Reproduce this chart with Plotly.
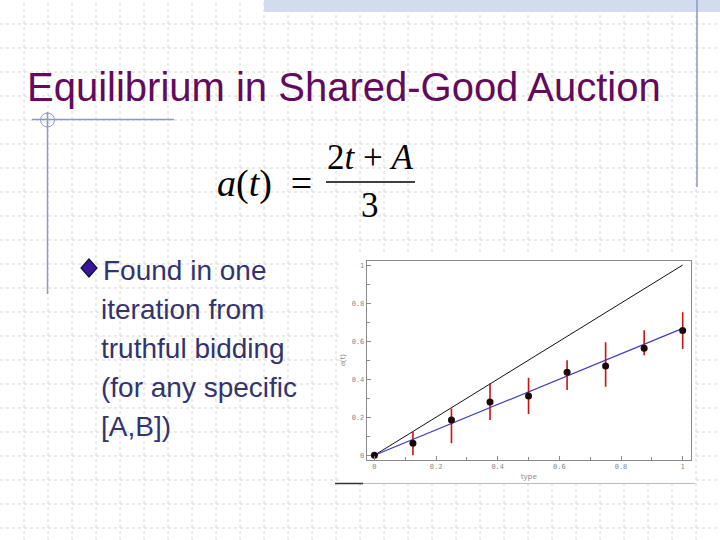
import plotly.graph_objects as go

W, H = 720, 540

# ---- data ----
types = [0, 0.125, 0.25, 0.375, 0.5, 0.625, 0.75, 0.875, 1.0]
bids = [0.0, 0.063, 0.185, 0.28, 0.311, 0.437, 0.469, 0.563, 0.656]
err_top = [0.0, 0.124, 0.246, 0.378, 0.407, 0.50, 0.594, 0.657, 0.752]
err_bottom = [0.0, 0.0, 0.063, 0.185, 0.217, 0.343, 0.36, 0.526, 0.559]
line_x = [0, 1]
truthful_y = [0, 1]
equilibrium_y = [0, 0.667]
x_ticks = [0, 0.2, 0.4, 0.6, 0.8, 1]
y_ticks = [0, 0.2, 0.4, 0.6, 0.8, 1]

title_text = "Equilibrium in Shared-Good Auction"
bullet_lines = ["Found in one", "iteration from", "truthful bidding",
                "(for any specific", "[A,B])"]


def X(px):
    return px / W


def Y(py):
    return 1 - py / H


err_plus = [t - b for t, b in zip(err_top, bids)]
err_minus = [b - lo for b, lo in zip(bids, err_bottom)]

fig = go.Figure()
fig.add_trace(go.Scatter(x=line_x, y=truthful_y, mode="lines",
                         line=dict(color="#111111", width=1), hoverinfo="skip"))
fig.add_trace(go.Scatter(x=line_x, y=equilibrium_y, mode="lines",
                         line=dict(color="#3a3ac8", width=1.2), hoverinfo="skip"))
fig.add_trace(go.Scatter(
    x=types, y=bids, mode="markers",
    marker=dict(color="#1a0808", size=7),
    error_y=dict(type="data", symmetric=False, array=err_plus,
                 arrayminus=err_minus, color="#cc1111", thickness=1.6, width=0),
))

shapes = []
gc = "#d6d6d6"
for k in range(1, 30):
    shapes.append(dict(type="line", xref="paper", yref="paper",
                       x0=X(24 * k), x1=X(24 * k), y0=0, y1=1,
                       line=dict(color=gc, width=1, dash="dot"), layer="below"))
for k in range(1, 23):
    shapes.append(dict(type="line", xref="paper", yref="paper",
                       x0=0, x1=1, y0=Y(24 * k), y1=Y(24 * k),
                       line=dict(color=gc, width=1, dash="dot"), layer="below"))
# top band
shapes.append(dict(type="rect", xref="paper", yref="paper",
                   x0=X(264), x1=1, y0=Y(12), y1=1,
                   fillcolor="#d3dcee", line=dict(width=0), layer="below"))
deco = "#8a9ac0"
shapes.append(dict(type="line", xref="paper", yref="paper",
                   x0=X(697), x1=X(697), y0=Y(0), y1=Y(187),
                   line=dict(color=deco, width=1.5)))
shapes.append(dict(type="line", xref="paper", yref="paper",
                   x0=X(32), x1=X(174), y0=Y(119.5), y1=Y(119.5),
                   line=dict(color=deco, width=1.5)))
shapes.append(dict(type="line", xref="paper", yref="paper",
                   x0=X(47.5), x1=X(47.5), y0=Y(112), y1=Y(294),
                   line=dict(color=deco, width=1.5)))
shapes.append(dict(type="circle", xref="paper", yref="paper",
                   x0=X(40.5), x1=X(54.5), y0=Y(113), y1=Y(127),
                   line=dict(color=deco, width=1)))
# chart image box
shapes.append(dict(type="rect", xref="paper", yref="paper",
                   x0=X(340), x1=X(695), y0=Y(484), y1=Y(254),
                   fillcolor="white", line=dict(width=0), layer="below"))
shapes.append(dict(type="line", xref="paper", yref="paper",
                   x0=X(340), x1=X(695), y0=Y(483.5), y1=Y(483.5),
                   line=dict(color="#bbbbbb", width=1)))
shapes.append(dict(type="line", xref="paper", yref="paper",
                   x0=X(335), x1=X(363), y0=Y(483.5), y1=Y(483.5),
                   line=dict(color="#333333", width=1.5)))
# bullet diamond
cx, cy, r = 89, 268, 8
path = "M {} {} L {} {} L {} {} L {} {} Z".format(
    X(cx), Y(cy - r - 1), X(cx + r), Y(cy), X(cx), Y(cy + r + 1), X(cx - r), Y(cy))
shapes.append(dict(type="path", xref="paper", yref="paper", path=path,
                   fillcolor="#3a14a0", line=dict(color="#111133", width=1.2)))
# fraction bar
shapes.append(dict(type="line", xref="paper", yref="paper",
                   x0=X(326), x1=X(415), y0=Y(182), y1=Y(182),
                   line=dict(color="black", width=1.5)))

annotations = []
annotations.append(dict(text=title_text, x=X(25), y=Y(87), xref="paper", yref="paper",
                        xanchor="left", yanchor="middle", showarrow=False,
                        font=dict(family="Liberation Sans", size=40, color="#620a5e")))
for i, line in enumerate(bullet_lines):
    annotations.append(dict(text=line, x=X(99 if i else 101), y=Y(270 + 39 * i),
                            xref="paper", yref="paper", xanchor="left",
                            yanchor="middle", showarrow=False,
                            font=dict(family="Liberation Sans", size=28,
                                      color="#33336e")))
serif = "Liberation Serif"
annotations.append(dict(text="<i>a</i>(<i>t</i>)  =", x=X(314), y=Y(183),
                        xref="paper", yref="paper", xanchor="right", yanchor="middle",
                        showarrow=False, font=dict(family=serif, size=38, color="black")))
annotations.append(dict(text="2<i>t</i> + <i>A</i>", x=X(370), y=Y(158),
                        xref="paper", yref="paper", xanchor="center", yanchor="middle",
                        showarrow=False, font=dict(family=serif, size=35, color="black")))
annotations.append(dict(text="3", x=X(370), y=Y(205),
                        xref="paper", yref="paper", xanchor="center", yanchor="middle",
                        showarrow=False, font=dict(family=serif, size=35, color="black")))

axis_common = dict(showgrid=False, zeroline=False, showline=True, mirror=True,
                   linecolor="#8a8a8a", linewidth=1, ticks="inside", ticklen=4,
                   tickcolor="#8a8a8a", tickfont=dict(size=7, color="#8a8a8a",
                                                      family="DejaVu Sans Mono"))
fig.update_layout(
    width=W, height=H, margin=dict(l=0, r=0, t=0, b=0),
    paper_bgcolor="white", plot_bgcolor="white", showlegend=False,
    shapes=shapes, annotations=annotations,
    xaxis=dict(domain=[X(366.7), X(691)], range=[-0.025, 1.027],
               tickvals=x_ticks, minor=dict(ticks="inside", dtick=0.1, ticklen=3,
                                            tickcolor="#8a8a8a"),
               title=dict(text="type", font=dict(size=8, color="#8a8a8a"), standoff=2),
               **axis_common),
    yaxis=dict(domain=[Y(460), Y(260.7)], range=[-0.025, 1.023],
               tickvals=y_ticks, minor=dict(ticks="inside", dtick=0.1, ticklen=3,
                                            tickcolor="#8a8a8a"),
               title=dict(text="a(t)", font=dict(size=8, color="#8a8a8a"), standoff=4),
               **axis_common),
)

fig.write_html("out.html", config={"displayModeBar": False},
               post_script="document.body.style.margin='0';document.body.style.overflow='hidden';")
